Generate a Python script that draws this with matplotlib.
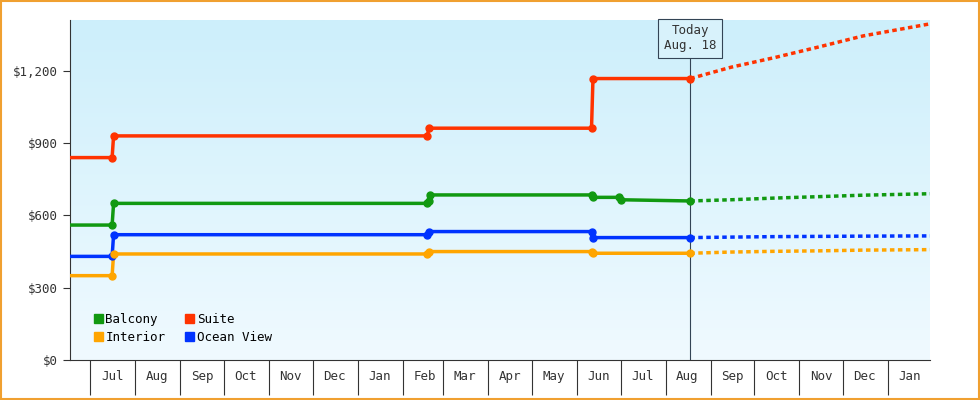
import matplotlib
matplotlib.use("Agg")
import matplotlib.pyplot as plt
import matplotlib.dates as mdates
import numpy as np
from datetime import datetime as D

plt.rcParams['font.family'] = ['DejaVu Sans Mono']

start, today, end = D(2022,6,17), D(2023,8,18), D(2024,1,30)

suite_d = [start, D(2022,7,16), D(2022,7,17), D(2023,2,18), D(2023,2,19), D(2023,6,11), D(2023,6,12), today]
suite_v = [840, 840, 930, 930, 962, 962, 1168, 1168]
balc_d = [start, D(2022,7,16), D(2022,7,17), D(2023,2,18), D(2023,2,19), D(2023,2,20), D(2023,6,11), D(2023,6,12), D(2023,6,30), D(2023,7,1), today]
balc_v = [560, 560, 650, 650, 660, 685, 685, 675, 675, 665, 660]
ocean_d = [start, D(2022,7,16), D(2022,7,17), D(2023,2,18), D(2023,2,19), D(2023,6,11), D(2023,6,12), today]
ocean_v = [430, 430, 520, 520, 533, 533, 508, 508]
int_d = [start, D(2022,7,16), D(2022,7,17), D(2023,2,18), D(2023,2,19), D(2023,6,11), D(2023,6,12), today]
int_v = [350, 350, 440, 440, 450, 450, 443, 443]

fc_d = [today, D(2023,9,15), D(2023,10,15), D(2023,11,15), D(2023,12,15), end]
suite_fc = [1168, 1215, 1255, 1300, 1345, 1395]
balc_fc = [660, 665, 672, 678, 684, 690]
ocean_fc = [508, 510, 512, 513, 514, 515]
int_fc = [443, 448, 451, 453, 456, 458]

colors = {'Balcony': '#119911', 'Suite': '#ff3300', 'Interior': '#ffa500', 'Ocean View': '#0033ff'}

fig = plt.figure(figsize=(9.8, 4.0), dpi=100)
fig.patch.set_facecolor('white')
fig.patches.append(plt.Rectangle((0.001, 0.002), 0.998, 0.996, transform=fig.transFigure,
                                 fill=False, edgecolor='#f0a030', lw=1.5))
ax = fig.add_axes([70/980, 40/400, 860/980, 340/400])
x0, x1 = mdates.date2num(start), mdates.date2num(end)
grad = np.linspace(0, 1, 256).reshape(-1, 1)
from matplotlib.colors import LinearSegmentedColormap
cm = LinearSegmentedColormap.from_list('g', ['#f0faff', '#cdeffb'])
ax.imshow(grad, extent=[x0, x1, 0, 1411], origin='lower', aspect='auto', cmap=cm, zorder=0)

series = [('Suite', suite_d, suite_v, suite_fc), ('Balcony', balc_d, balc_v, balc_fc),
          ('Ocean View', ocean_d, ocean_v, ocean_fc), ('Interior', int_d, int_v, int_fc)]
for name, d, v, fc in series:
    c = colors[name]
    ax.plot(d, v, color=c, lw=2.5, zorder=3)
    ax.plot(d[1:], v[1:], 'o', color=c, ms=5, zorder=4)
    ax.plot(fc_d, fc, color=c, lw=2.5, ls=(0, (1.3, 1.0)), zorder=3)

ax.axvline(today, color='#334455', lw=0.8, zorder=2)
ax.text(today, 1335, 'Today\nAug. 18', ha='center', va='center', fontsize=9, color='#333333',
        bbox=dict(boxstyle='square,pad=0.45', fc='#d8f2fb', ec='#334455', lw=0.8), zorder=5)

ax.set_xlim(x0, x1)
ax.set_ylim(0, 1411)
ax.set_yticks([0, 300, 600, 900, 1200])
ax.set_yticklabels(['$0', '$300', '$600', '$900', '$1,200'], fontsize=9, color='#333333')
ax.xaxis.set_major_locator(mdates.MonthLocator())
ax.xaxis.set_major_formatter(plt.NullFormatter())
ax.xaxis.set_minor_locator(mdates.MonthLocator(bymonthday=16))
ax.xaxis.set_minor_formatter(mdates.DateFormatter('%b'))
ax.tick_params(axis='x', which='major', length=25, direction='out', color='#333333')
ax.tick_params(axis='x', which='minor', length=0, pad=7, labelsize=9, labelcolor='#333333')
ax.tick_params(axis='y', length=5, color='#333333')
for s in ['top', 'right']:
    ax.spines[s].set_visible(False)
for s in ['left', 'bottom']:
    ax.spines[s].set_color('#333333')

from matplotlib.patches import Patch
handles = [Patch(color=colors[n]) for n in ['Balcony', 'Interior', 'Suite', 'Ocean View']]
ax.legend(handles, ['Balcony', 'Interior', 'Suite', 'Ocean View'], ncol=2, loc='lower left',
          bbox_to_anchor=(0.015, 0.015), frameon=False, fontsize=9, handlelength=0.7,
          handleheight=0.7, handletextpad=0.2, columnspacing=1.6, labelspacing=0.4)

fig.savefig('out.png', dpi=100)
